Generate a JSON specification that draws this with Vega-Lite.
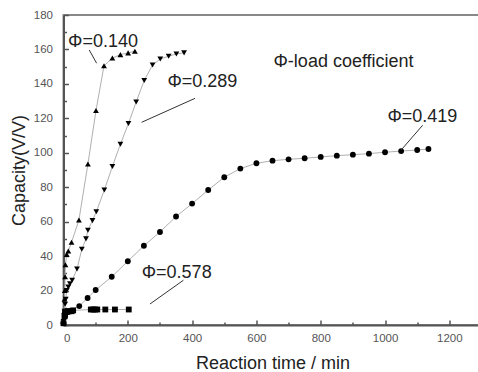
{
  "$schema": "https://vega.github.io/schema/vega-lite/v6.json",
  "width": 418,
  "height": 310,
  "autosize": "none",
  "padding": {"left": 63.5, "top": 15, "right": 0, "bottom": 57},
  "background": "white",
  "config": {
    "font": "Liberation Sans",
    "view": {"stroke": "#888", "strokeWidth": 2},
    "axis": {"domainColor": "#555", "domainWidth": 2, "tickColor": "#555", "tickWidth": 1.5, "labelColor": "#555", "labelFontSize": 11.5, "titleColor": "#222", "titleFontSize": 18, "titleFontWeight": "normal", "grid": false}
  },
  "resolve": {"axis": {"x": "independent", "y": "independent"}},
  "layer": [
    {
      "data": {"values": [
        {"t": 0, "c": 2, "s": "0.140"}, {"t": 2, "c": 8, "s": "0.140"}, {"t": 3, "c": 15, "s": "0.140"}, {"t": 4, "c": 20, "s": "0.140"}, {"t": 5, "c": 28, "s": "0.140"}, {"t": 6, "c": 35, "s": "0.140"}, {"t": 10, "c": 41, "s": "0.140"}, {"t": 15, "c": 43, "s": "0.140"}, {"t": 25, "c": 48, "s": "0.140"}, {"t": 48, "c": 61, "s": "0.140"}, {"t": 76, "c": 93.5, "s": "0.140"}, {"t": 101, "c": 124.5, "s": "0.140"}, {"t": 126, "c": 150.5, "s": "0.140"}, {"t": 152, "c": 155, "s": "0.140"}, {"t": 177, "c": 157, "s": "0.140"}, {"t": 201, "c": 158, "s": "0.140"}, {"t": 222, "c": 159, "s": "0.140"},
        {"t": 0, "c": 2, "s": "0.289"}, {"t": 3, "c": 8, "s": "0.289"}, {"t": 5, "c": 12, "s": "0.289"}, {"t": 7, "c": 15, "s": "0.289"}, {"t": 10, "c": 20, "s": "0.289"}, {"t": 15, "c": 22, "s": "0.289"}, {"t": 20, "c": 24, "s": "0.289"}, {"t": 27, "c": 26, "s": "0.289"}, {"t": 42, "c": 32.5, "s": "0.289"}, {"t": 57, "c": 44, "s": "0.289"}, {"t": 70, "c": 50, "s": "0.289"}, {"t": 76, "c": 55, "s": "0.289"}, {"t": 90, "c": 60.6, "s": "0.289"}, {"t": 102, "c": 65.8, "s": "0.289"}, {"t": 127, "c": 78.4, "s": "0.289"}, {"t": 152, "c": 92, "s": "0.289"}, {"t": 177, "c": 105, "s": "0.289"}, {"t": 202, "c": 117, "s": "0.289"}, {"t": 226, "c": 129.5, "s": "0.289"}, {"t": 251, "c": 142, "s": "0.289"}, {"t": 277, "c": 151, "s": "0.289"}, {"t": 301, "c": 154.5, "s": "0.289"}, {"t": 327, "c": 156, "s": "0.289"}, {"t": 351, "c": 157.4, "s": "0.289"}, {"t": 375, "c": 158, "s": "0.289"},
        {"t": 0, "c": 1, "s": "0.419"}, {"t": 5, "c": 5, "s": "0.419"}, {"t": 15, "c": 7.5, "s": "0.419"}, {"t": 49, "c": 11, "s": "0.419"}, {"t": 75, "c": 15.7, "s": "0.419"}, {"t": 100, "c": 20.3, "s": "0.419"}, {"t": 150, "c": 28, "s": "0.419"}, {"t": 200, "c": 37, "s": "0.419"}, {"t": 250, "c": 46, "s": "0.419"}, {"t": 300, "c": 54, "s": "0.419"}, {"t": 350, "c": 63, "s": "0.419"}, {"t": 400, "c": 70.5, "s": "0.419"}, {"t": 450, "c": 78.4, "s": "0.419"}, {"t": 500, "c": 85.8, "s": "0.419"}, {"t": 550, "c": 90.8, "s": "0.419"}, {"t": 600, "c": 93.9, "s": "0.419"}, {"t": 650, "c": 95.4, "s": "0.419"}, {"t": 700, "c": 96.2, "s": "0.419"}, {"t": 750, "c": 96.8, "s": "0.419"}, {"t": 800, "c": 97.6, "s": "0.419"}, {"t": 850, "c": 98.3, "s": "0.419"}, {"t": 900, "c": 98.9, "s": "0.419"}, {"t": 950, "c": 99.5, "s": "0.419"}, {"t": 1000, "c": 100.3, "s": "0.419"}, {"t": 1050, "c": 101, "s": "0.419"}, {"t": 1100, "c": 101.6, "s": "0.419"}, {"t": 1135, "c": 102.2, "s": "0.419"},
        {"t": 0, "c": 1, "s": "0.578"}, {"t": 3, "c": 5, "s": "0.578"}, {"t": 5, "c": 7, "s": "0.578"}, {"t": 8, "c": 7.5, "s": "0.578"}, {"t": 12, "c": 8, "s": "0.578"}, {"t": 18, "c": 8, "s": "0.578"}, {"t": 25, "c": 8, "s": "0.578"}, {"t": 30, "c": 8.5, "s": "0.578"}, {"t": 85, "c": 9, "s": "0.578"}, {"t": 92, "c": 9, "s": "0.578"}, {"t": 98, "c": 9, "s": "0.578"}, {"t": 105, "c": 9, "s": "0.578"}, {"t": 130, "c": 9, "s": "0.578"}, {"t": 160, "c": 9, "s": "0.578"}, {"t": 203, "c": 9, "s": "0.578"}
      ]},
      "encoding": {
        "x": {"field": "t", "type": "quantitative", "scale": {"domain": [0, 1300], "nice": false, "zero": false},
              "axis": {"orient": "bottom", "values": [0, 200, 400, 600, 800, 1000, 1200], "format": "d", "tickSize": -5, "labelPadding": 12, "title": "Reaction time / min", "titlePadding": 11}},
        "y": {"field": "c", "type": "quantitative", "scale": {"domain": [0, 180], "nice": false, "zero": false},
              "axis": {"orient": "left", "values": [0, 20, 40, 60, 80, 100, 120, 140, 160, 180], "format": "d", "tickSize": -5, "labelPadding": 16, "title": "Capacity(V/V)", "titlePadding": 5}}
      },
      "layer": [
        {
          "mark": {"type": "line", "color": "#b0b0b0", "strokeWidth": 1},
          "encoding": {"detail": {"field": "s"}}
        },
        {
          "mark": {"type": "point", "filled": true, "color": "black", "opacity": 1},
          "encoding": {
            "shape": {"field": "s", "type": "nominal", "scale": {"domain": ["0.140", "0.289", "0.419", "0.578"], "range": ["triangle-up", "triangle-down", "circle", "square"]}, "legend": null},
            "size": {"field": "s", "type": "ordinal", "scale": {"domain": ["0.140", "0.289", "0.419", "0.578"], "range": [34, 34, 24, 20]}, "legend": null}
          }
        }
      ]
    },
    {
      "data": {"values": [{"t": 0, "c": 0}]},
      "mark": {"type": "point", "opacity": 0},
      "encoding": {
        "x": {"field": "t", "type": "quantitative", "axis": {"orient": "bottom", "values": [100, 300, 500, 700, 900, 1100, 1300], "labels": false, "domain": false, "tickSize": -3, "title": null}},
        "y": {"field": "c", "type": "quantitative", "axis": {"orient": "left", "values": [10, 30, 50, 70, 90, 110, 130, 150, 170], "labels": false, "domain": false, "tickSize": -3, "title": null}}
      }
    },
    {
      "data": {"values": [
        {"t": 80, "c": 159.7, "t2": 103, "c2": 152},
        {"t": 409, "c": 131.6, "t2": 243, "c2": 117.7},
        {"t": 1117, "c": 116, "t2": 1050, "c2": 101.6},
        {"t": 373, "c": 26, "t2": 269, "c2": 12.2}
      ]},
      "mark": {"type": "rule", "color": "#333", "strokeWidth": 1},
      "encoding": {
        "x": {"field": "t", "type": "quantitative", "axis": null},
        "y": {"field": "c", "type": "quantitative", "axis": null},
        "x2": {"field": "t2"},
        "y2": {"field": "c2"}
      }
    },
    {
      "data": {"values": [
        {"t": 123, "c": 164.3, "label": "Φ=0.140"},
        {"t": 432, "c": 141, "label": "Φ=0.289"},
        {"t": 871, "c": 152.7, "label": "Φ-load coefficient"},
        {"t": 1116, "c": 121, "label": "Φ=0.419"},
        {"t": 352, "c": 30.2, "label": "Φ=0.578"}
      ]},
      "mark": {"type": "text", "fontSize": 18, "color": "#222", "align": "center", "baseline": "middle"},
      "encoding": {
        "x": {"field": "t", "type": "quantitative", "axis": null},
        "y": {"field": "c", "type": "quantitative", "axis": null},
        "text": {"field": "label"}
      }
    }
  ]
}
